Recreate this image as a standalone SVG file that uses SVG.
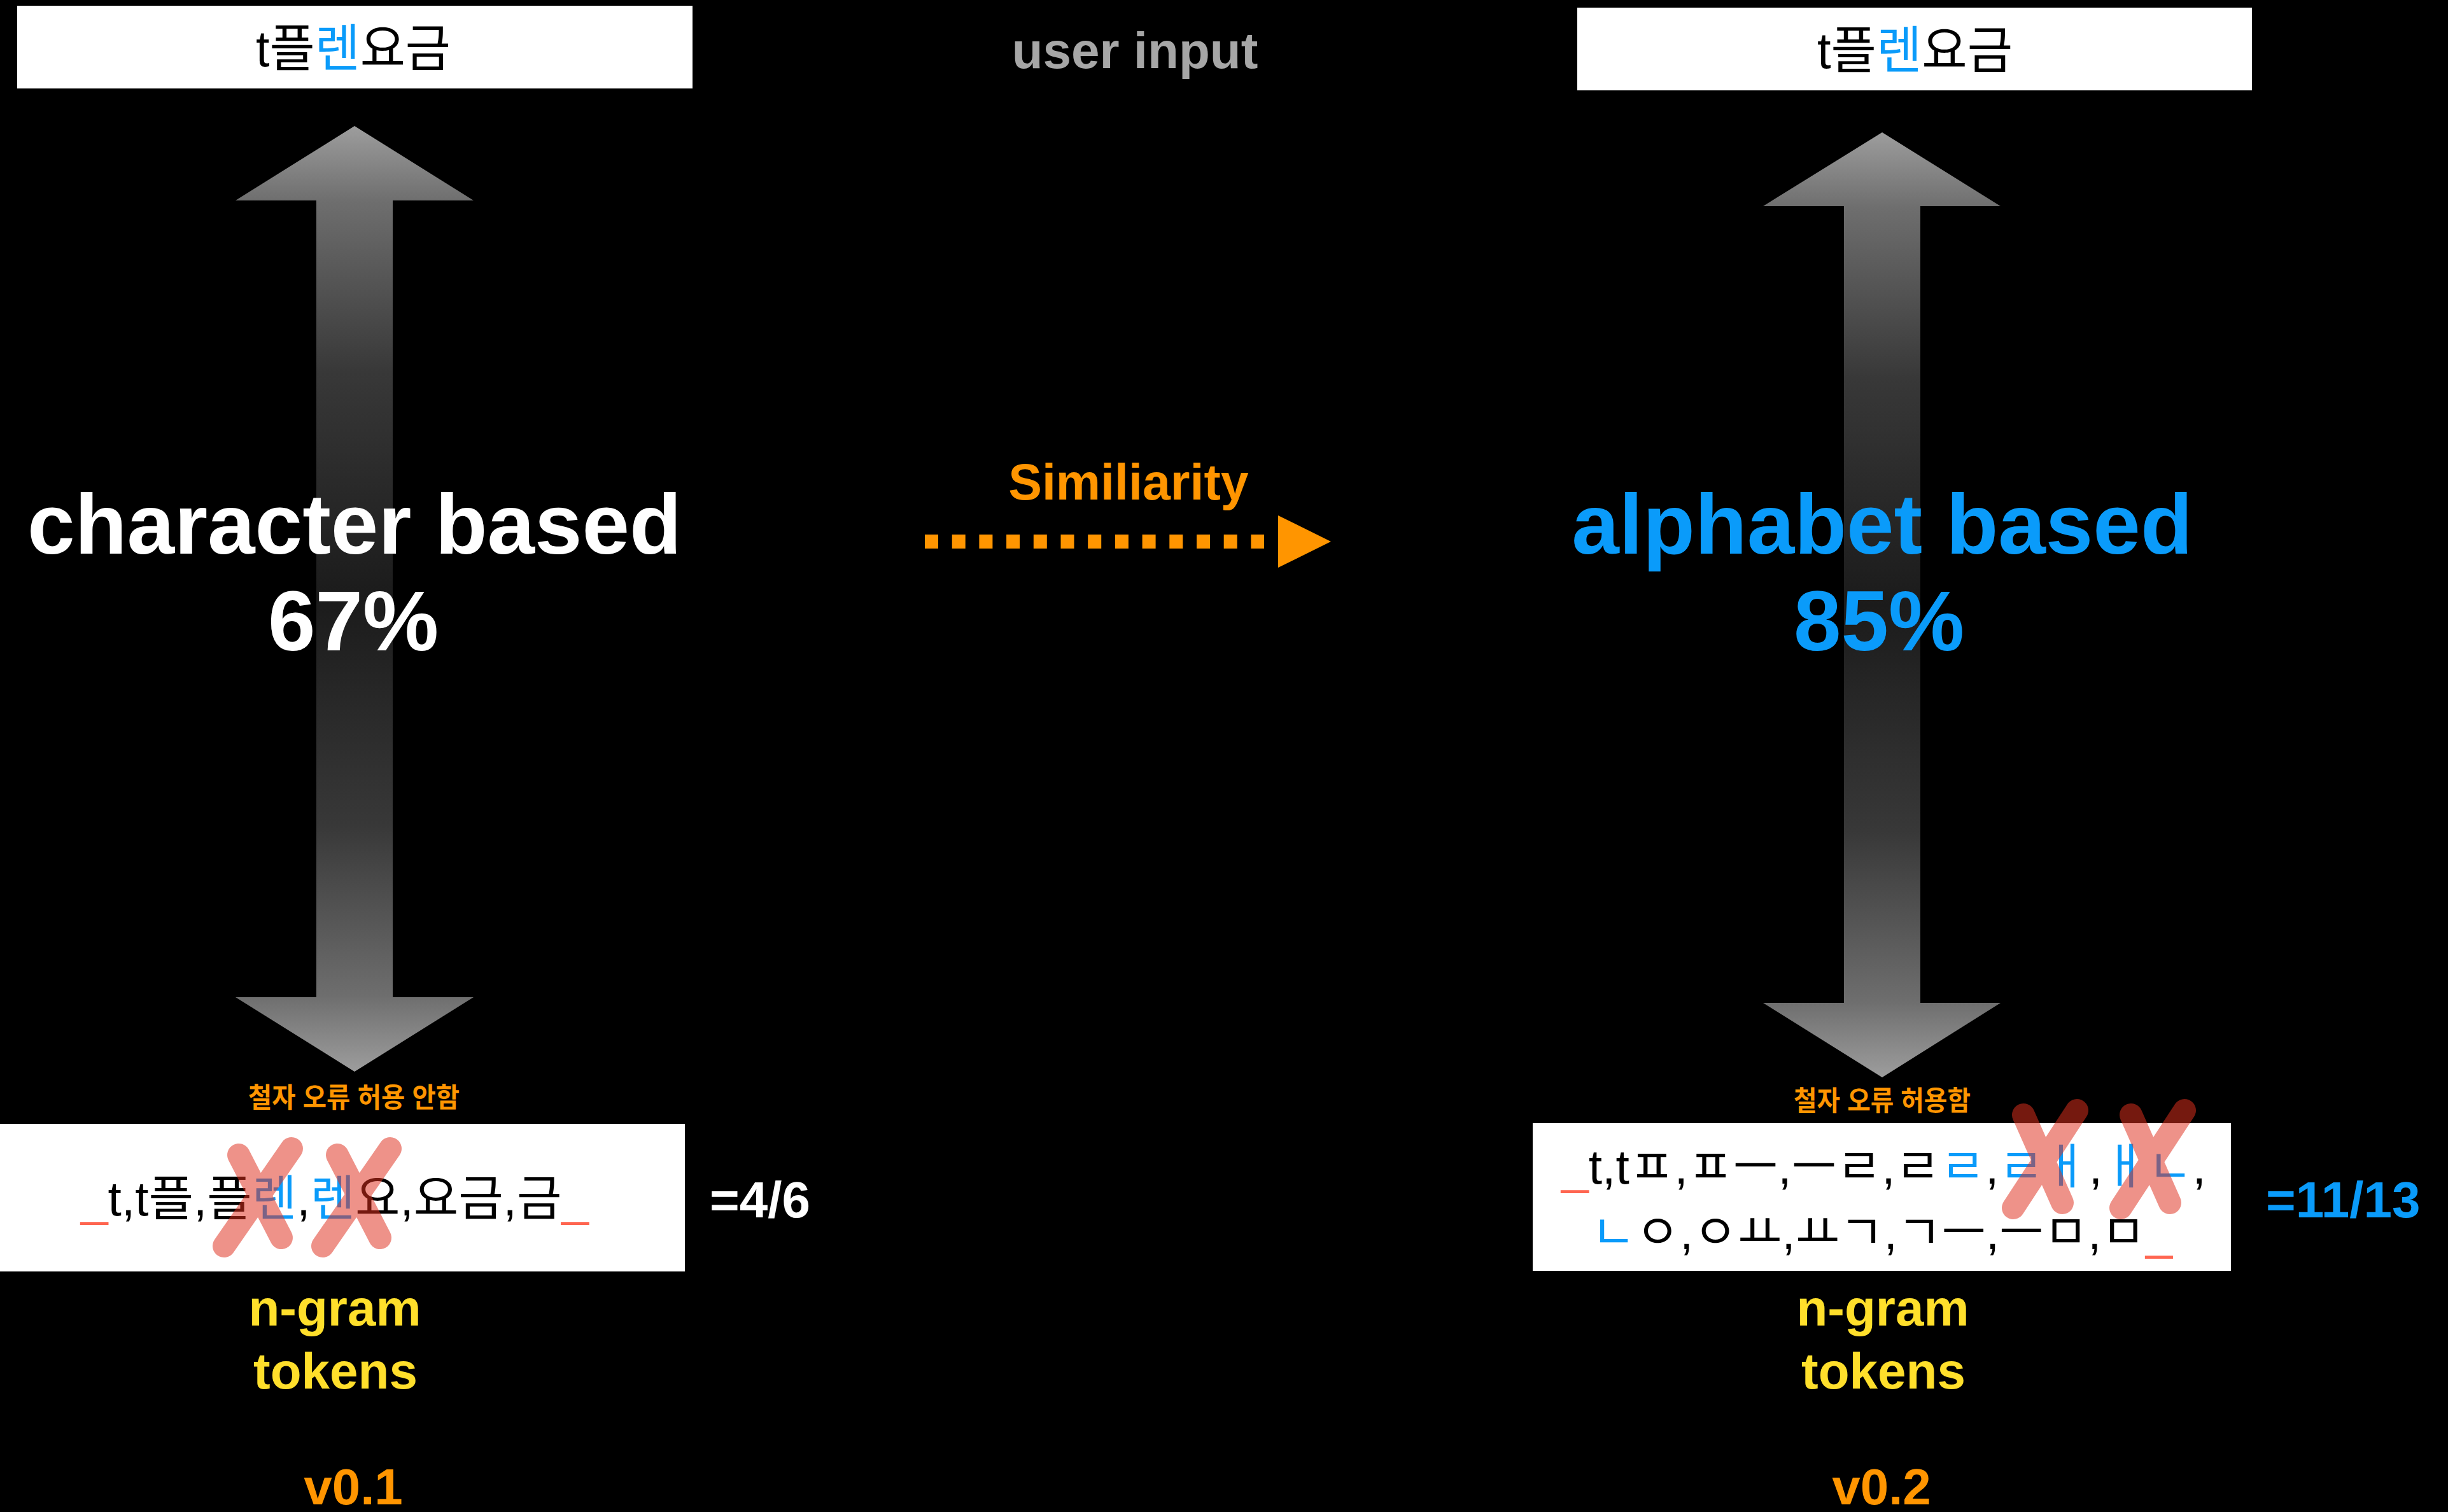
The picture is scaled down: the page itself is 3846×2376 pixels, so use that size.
<svg xmlns="http://www.w3.org/2000/svg" width="3846" height="2376" viewBox="0 0 3846 2376">
<style>
.lat{font-family:"Liberation Sans","Noto Sans CJK KR",sans-serif;font-weight:700}
.kr{font-family:"Liberation Sans","Noto Sans CJK KR",sans-serif}
.box{fill:#ffffff}
.blue{fill:#0A9BFA}
.red{fill:#FF6550}
.org{fill:#FF9500}
.yel{fill:#FFDF2B}
.x{fill:none;stroke:#E0301E;stroke-width:36;stroke-linecap:round}
</style>
<defs>
<linearGradient id="g" x1="0" y1="0" x2="0" y2="1">
<stop offset="0" stop-color="#9d9d9d"/>
<stop offset="0.08" stop-color="#6e6e6e"/>
<stop offset="0.26" stop-color="#383838"/>
<stop offset="0.5" stop-color="#1b1b1b"/>
<stop offset="0.74" stop-color="#383838"/>
<stop offset="0.92" stop-color="#6e6e6e"/>
<stop offset="1" stop-color="#9d9d9d"/>
</linearGradient>
</defs>
<rect x="0" y="0" width="3846" height="2376" fill="#000"/>

<g id="connectors">
<polygon fill="url(#g)" points="557,198 744,315 617,315 617,1567 744,1567 557,1684 370,1567 497,1567 497,315 370,315"/>
<polygon fill="url(#g)" points="2957,208 3143,324 3017,324 3017,1576 3143,1576 2957,1693 2770,1576 2897,1576 2897,324 2770,324"/>
<line x1="1453" y1="851" x2="1986" y2="851" stroke="#FF9500" stroke-width="22" stroke-dasharray="21 21.7"/>
<polygon fill="#FF9500" points="2008,810 2091,851 2008,892"/>
</g>

<g id="input-left">
<rect class="box" x="27" y="9" width="1061" height="130"/>
<text class="kr" x="402" y="104" font-size="80" textLength="306" lengthAdjust="spacingAndGlyphs">t플<tspan class="blue">렌</tspan>요금</text>
</g>

<g id="input-right">
<rect class="box" x="2478" y="12" width="1060" height="130"/>
<text class="kr" x="2855" y="107" font-size="80" textLength="307" lengthAdjust="spacingAndGlyphs">t플<tspan class="blue">렌</tspan>요금</text>
</g>

<g id="user-input-label">
<text class="lat" x="1783" y="107" font-size="80" fill="#A6A6A6" text-anchor="middle">user input</text>
</g>

<g id="character-based">
<text class="lat" x="557" y="870" font-size="134" fill="#fff" text-anchor="middle">character based</text>
<text class="lat" x="555" y="1022" font-size="134" fill="#fff" text-anchor="middle">67%</text>
</g>

<g id="alphabet-based">
<text class="lat blue" x="2957" y="870" font-size="134" text-anchor="middle">alphabet based</text>
<text class="lat blue" x="2952" y="1022" font-size="134" text-anchor="middle">85%</text>
</g>

<g id="similarity-label">
<text class="lat org" x="1773" y="785" font-size="79" text-anchor="middle">Similiarity</text>
</g>

<g id="tokens-left">
<text class="kr org" x="390" y="1740" font-size="43" font-weight="700" textLength="332" lengthAdjust="spacingAndGlyphs">철자 오류 허용 안함</text>
<rect class="box" x="0" y="1766" width="1076" height="232"/>
<text class="kr" x="127" y="1910" font-size="76" textLength="798" lengthAdjust="spacingAndGlyphs"><tspan class="red">_</tspan>t,t플,플<tspan class="blue">렌</tspan>,<tspan class="blue">렌</tspan>요,요금,금<tspan class="red">_</tspan></text>
<g opacity="0.52">
<path class="x" d="M375,1815 L442,1945 M458,1805 L352,1958"/>
<path class="x" d="M530,1815 L597,1945 M613,1805 L507,1958"/>
</g>
<text class="lat" x="1115" y="1913" font-size="80" fill="#fff">=4/6</text>
</g>

<g id="tokens-right">
<text class="kr org" x="2818" y="1745" font-size="43" font-weight="700" textLength="278" lengthAdjust="spacingAndGlyphs">철자 오류 허용함</text>
<rect class="box" x="2408" y="1765" width="1097" height="232"/>
<text class="kr" x="2453" y="1860" font-size="76" textLength="1013" lengthAdjust="spacingAndGlyphs"><tspan class="red">_</tspan>t,tㅍ,ㅍㅡ,ㅡㄹ,ㄹ<tspan class="blue">ㄹ</tspan>,<tspan class="blue">ㄹㅐ</tspan>,<tspan class="blue">ㅐㄴ</tspan>,</text>
<text class="kr" x="2500" y="1963" font-size="76" textLength="913" lengthAdjust="spacingAndGlyphs"><tspan class="blue">ㄴ</tspan>ㅇ,ㅇㅛ,ㅛㄱ,ㄱㅡ,ㅡㅁ,ㅁ<tspan class="red">_</tspan></text>
<g opacity="0.52">
<path class="x" d="M3179,1752 L3240,1890 M3263,1745 L3163,1898"/>
<path class="x" d="M3348,1752 L3409,1890 M3432,1745 L3332,1898"/>
</g>
<text class="lat blue" x="3560" y="1913" font-size="80">=11/13</text>
</g>

<g id="ngram-left">
<text class="lat yel" x="526" y="2083" font-size="80" text-anchor="middle">n-gram</text>
<text class="lat yel" x="527" y="2182" font-size="80" text-anchor="middle">tokens</text>
</g>
<g id="ngram-right">
<text class="lat yel" x="2958" y="2083" font-size="80" text-anchor="middle">n-gram</text>
<text class="lat yel" x="2959" y="2182" font-size="80" text-anchor="middle">tokens</text>
</g>

<g id="version-left">
<text class="lat org" x="555" y="2364" font-size="80" text-anchor="middle">v0.1</text>
</g>
<g id="version-right">
<text class="lat org" x="2956" y="2364" font-size="80" text-anchor="middle">v0.2</text>
</g>
</svg>
